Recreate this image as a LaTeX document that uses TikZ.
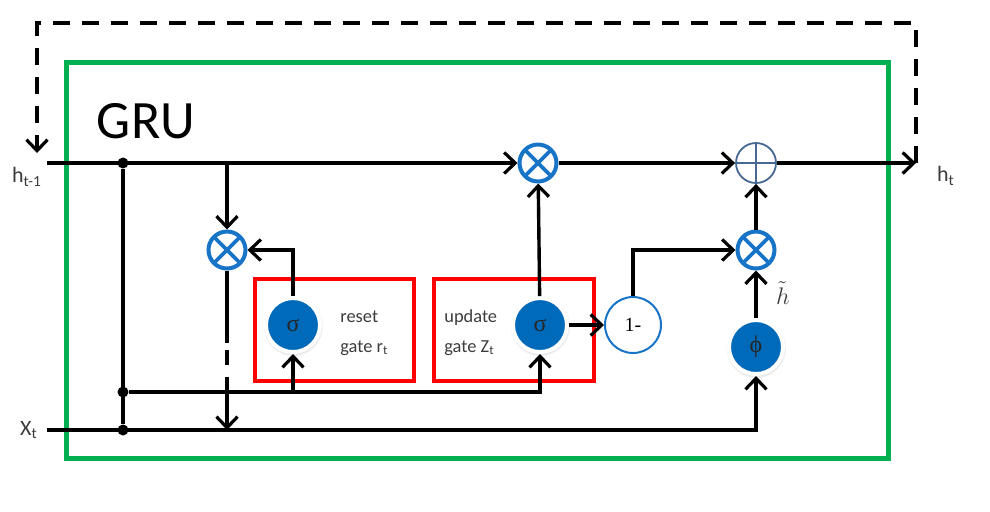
\documentclass[tikz,border=0pt]{standalone}
\usepackage{fontspec}
\setmainfont{Carlito}
\newfontfamily\greekfont{Liberation Serif}
\usepackage{xcolor}
\usepackage{tikz}
\usetikzlibrary{arrows.meta,shadows,positioning}
\definecolor{gatefill}{RGB}{0,106,186}
\definecolor{multblue}{RGB}{24,116,198}
\definecolor{addblue}{RGB}{70,104,146}
\definecolor{cellgreen}{RGB}{0,176,80}
\definecolor{labelgray}{RGB}{60,60,60}
\tikzset{
  wire/.style={line width=1.7pt, black},
  flow/.style={wire, -{Straight Barb[length=5.5pt,width=10.5pt,line width=1.6pt]}},
  junc/.style={circle, fill=black, inner sep=0pt, minimum size=5.5pt},
  lbl/.style={inner sep=0pt, text=labelgray, font=\fontsize{11}{13}\selectfont},
  gate_txt/.style={lbl, align=left, font=\fontsize{9.2}{15}\selectfont},
  gate_box/.style={draw=red, line width=2pt, inner sep=0pt},
  sig_n/.style={circle, fill=gatefill, draw=white, line width=2pt, minimum size=27pt, inner sep=0pt,
    circular drop shadow={shadow xshift=0pt, shadow yshift=-0.5pt, shadow scale=1.12, opacity=0.35},
    text=black!85, font=\greekfont\fontsize{12}{12}\selectfont},
  mul_n/.style={circle, draw=multblue, fill=white, line width=2pt, minimum size=18.5pt, inner sep=0pt,
    path picture={\draw[multblue, line width=1.8pt]
      (path picture bounding box.north west) -- (path picture bounding box.south east)
      (path picture bounding box.north east) -- (path picture bounding box.south west);}},
  add_n/.style={circle, draw=addblue, fill=white, line width=0.9pt, minimum size=20pt, inner sep=0pt,
    path picture={\draw[addblue, line width=0.9pt]
      (path picture bounding box.north) -- (path picture bounding box.south)
      (path picture bounding box.west) -- (path picture bounding box.east);}},
  om_n/.style={circle, draw=multblue, fill=white, line width=1pt, minimum size=28pt, inner sep=0pt,
    font=\greekfont\fontsize{10}{10}\selectfont}
}

\begin{document}
\begin{tikzpicture}[x=0.5pt, y=-0.5pt]
  \useasboundingbox (0,0) rectangle (990,511);

  % the cell
  \node[draw=cellgreen, line width=2.5pt, minimum width=410.75pt, minimum height=198.25pt, inner sep=0pt] (cell) at (477.25,260.25) {};
  \node[inner sep=0pt, font=\fontsize{27}{30}\selectfont] (title) at (146,121) {GRU};

  % gate boxes
  \node[gate_box, minimum width=79.5pt, minimum height=51pt] (boxr) at (334.5,330) {};
  \node[gate_box, minimum width=80pt, minimum height=51pt] (boxz) at (514,329.5) {};
  \node[gate_txt, anchor=west] (txtr) at (340,333) {reset\\gate r\textsubscript{t}};
  \node[gate_txt, anchor=west] (txtz) at (444,333) {update\\gate Z\textsubscript{t}};

  % inputs and outputs
  \coordinate (hin) at (47,163);
  \coordinate (xin) at (47,430);
  \coordinate (hout) at (916,163);
  \coordinate (fbtop) at (37,23);
  \coordinate (fbtip) at (37,153);
  \node[lbl] (hprev) at (27,177) {h\textsubscript{t-1}};
  \node[lbl] (xcur) at (29,430) {X\textsubscript{t}};
  \node[lbl] (hnext) at (946,176) {h\textsubscript{t}};

  % junctions
  \node[junc] (dot1) at (123,163) {};
  \node[junc] (dot2) at (123,392) {};
  \node[junc] (dot3) at (123,430) {};
  \coordinate (hbr) at (227,163);
  \coordinate (brr) at (293,392);

  % operations
  \node[mul_n] (mulr) at (227,250) {};
  \node[sig_n] (sigr) at (293,325) {σ};
  \node[sig_n] (sigz) at (540,325) {σ};
  \node[mul_n] (mulz) at (538,163) {};
  \node[om_n] (onem) at (633,325) {1-};
  \node[add_n] (addh) at (756,163) {};
  \node[mul_n] (mulh) at (756,250) {};
  \node[sig_n] (phih) at (756,347) {ϕ};
  \node[inner sep=0pt, text=labelgray, font=\fontsize{13}{13}\selectfont] (htil) at (783,293) {$\tilde{h}$};

  % connections
  \draw[flow] (hin) -- (mulz);
  \draw[flow] (mulz) -- (addh);
  \draw[flow] (addh) -- (hout);
  \draw[wire] (dot1) -- (dot3);
  \draw[flow] (dot2) -| (sigz);
  \draw[flow] (brr) -- (sigr);
  \draw[flow] (xin) -| (phih);
  \draw[flow] (hbr) -- (mulr);
  \draw[flow] (sigr) |- (mulr);
  \draw[flow, dash pattern=on 36pt off 3.5pt on 7.5pt off 6pt on 40pt off 0pt] (mulr) -- (mulr |- xin);
  \draw[flow] (sigz) -- (mulz);
  \draw[flow] (sigz) -- (onem);
  \draw[flow] (onem) |- (mulh);
  \draw[flow] (phih) -- (mulh);
  \draw[flow] (mulh) -- (addh);
  \draw[flow, dash pattern=on 8.5pt off 6pt] (hout) |- (fbtop) -- (fbtip);
\end{tikzpicture}
\end{document}
